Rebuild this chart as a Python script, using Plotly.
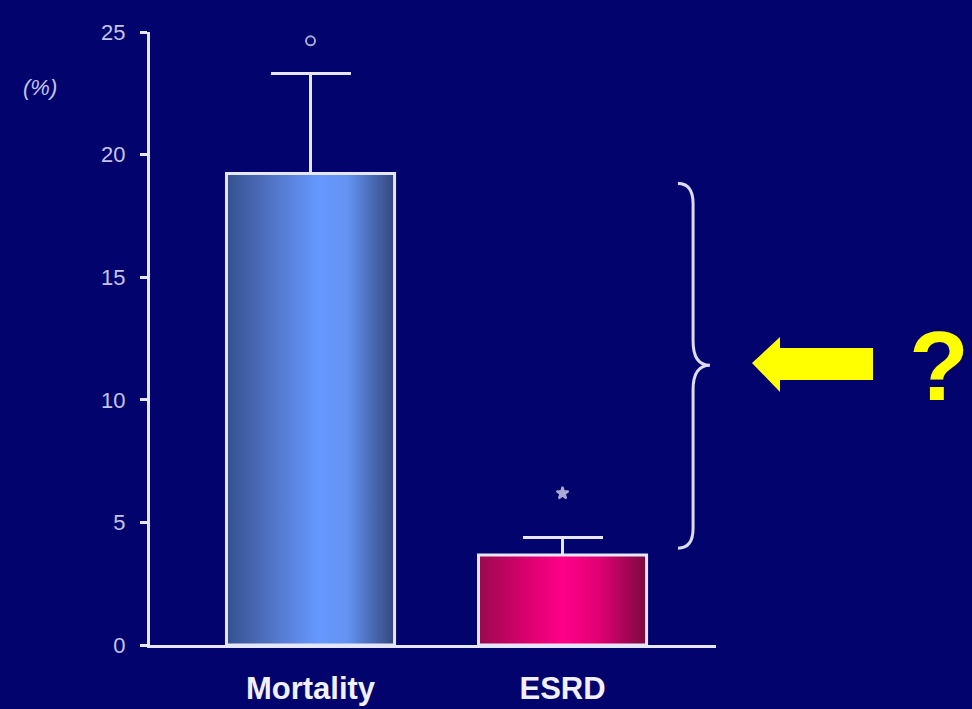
import plotly.graph_objects as go

# ---- data ----
categories = ["Mortality", "ESRD"]
values = [19.23, 3.67]
errors_up = [4.07, 0.70]
marker_y = [24.64, 6.19]          # significance markers above bars
marker_symbols = ["circle-open", "star"]
y_ticks = [0, 5, 10, 15, 20, 25]
y_label = "(%)"

# ---- style ----
BG = "#03036e"
AXIS = "#e6e6fa"
TICKTXT = "#c4c4ec"
bar_width = 0.667
gradients = [
    [[0.0, "#34508e"], [0.3, "#5578cc"], [0.55, "#6699ff"], [0.72, "#6393f2"], [1.0, "#33467e"]],
    [[0.0, "#9a0a4e"], [0.3, "#dd0070"], [0.5, "#ff0088"], [0.72, "#e00074"], [1.0, "#7a0a40"]],
]

xpos = list(range(len(categories)))

fig = go.Figure()

# base bars (hidden under gradient) with error bars
fig.add_trace(go.Bar(
    x=xpos, y=values, width=bar_width,
    marker=dict(color=["#6699ff", "#ff0088"], line=dict(width=0)),
    error_y=dict(type="data", symmetric=False, array=errors_up,
                 arrayminus=[0] * len(values), color=AXIS, thickness=3, width=40),
    showlegend=False, hoverinfo="skip",
))

# gradient bodies + white outlines drawn from the same data
for i, (xc, v) in enumerate(zip(xpos, values)):
    x0, x1 = xc - bar_width / 2, xc + bar_width / 2
    fig.add_trace(go.Scatter(
        x=[x0, x0, x1, x1, x0], y=[0, v, v, 0, 0],
        mode="lines", fill="toself",
        fillgradient=dict(type="horizontal", colorscale=gradients[i]),
        line=dict(color=AXIS, width=3),
        showlegend=False, hoverinfo="skip",
    ))

# significance markers
fig.add_trace(go.Scatter(
    x=xpos, y=marker_y, mode="markers",
    marker=dict(symbol=marker_symbols, size=[9, 9], color="#f0f0ff",
                line=dict(color="#f0f0ff", width=2)),
    showlegend=False, hoverinfo="skip",
))

# curly brace
brace = ("M 1.458,18.82 Q 1.518,18.82 1.518,18.0 L 1.518,12.4 "
         "Q 1.518,11.41 1.585,11.41 Q 1.518,11.41 1.518,10.4 "
         "L 1.518,4.75 Q 1.518,3.95 1.458,3.95")
fig.add_shape(type="path", path=brace, xref="x", yref="y",
              line=dict(color="#dcdcf4", width=3))

# yellow block arrow (paper coords)
arrow = ("M 1.0636,0.4600 L 1.1131,0.5024 L 1.1131,0.4845 L 1.2774,0.4845 "
         "L 1.2774,0.4323 L 1.1131,0.4323 L 1.1131,0.4127 Z")
fig.add_shape(type="path", path=arrow, xref="paper", yref="paper",
              fillcolor="#ffff00", line=dict(width=0))

fig.add_annotation(text="<b>?</b>", x=1.394, y=0.455, xref="paper", yref="paper",
                   showarrow=False, xanchor="center", yanchor="middle",
                   font=dict(family="Liberation Sans, Arial", size=98, color="#ffff00"))

fig.add_annotation(text="<i>" + y_label + "</i>", x=-0.194, y=0.909,
                   xref="paper", yref="paper", showarrow=False,
                   xanchor="center", yanchor="middle",
                   font=dict(family="Liberation Sans, Arial", size=22, color=TICKTXT))

fig.update_layout(
    width=972, height=709,
    paper_bgcolor=BG, plot_bgcolor=BG,
    margin=dict(l=150, r=256, t=32, b=64, autoexpand=False),
    bargap=0,
    xaxis=dict(
        range=[-0.637, 1.609], tickvals=xpos, ticktext=["<b>%s</b>" % c for c in categories],
        showgrid=False, zeroline=False, showline=True, linecolor=AXIS, linewidth=3,
        ticks="", ticklabelstandoff=14, automargin=False,
        tickfont=dict(family="Liberation Sans, Arial", size=31, color="#f0f0ff"),
    ),
    yaxis=dict(
        range=[0, 25], tickvals=y_ticks, showgrid=False, zeroline=False,
        showline=True, linecolor=AXIS, linewidth=3,
        ticks="outside", ticklen=7, tickwidth=3, tickcolor=AXIS,
        ticklabelstandoff=10, automargin=False,
        tickfont=dict(family="Liberation Sans, Arial", size=22, color=TICKTXT),
    ),
)

fig.write_html("out.html", config={"displayModeBar": False},
               post_script="document.body.style.margin='0';document.body.style.overflow='hidden';")
